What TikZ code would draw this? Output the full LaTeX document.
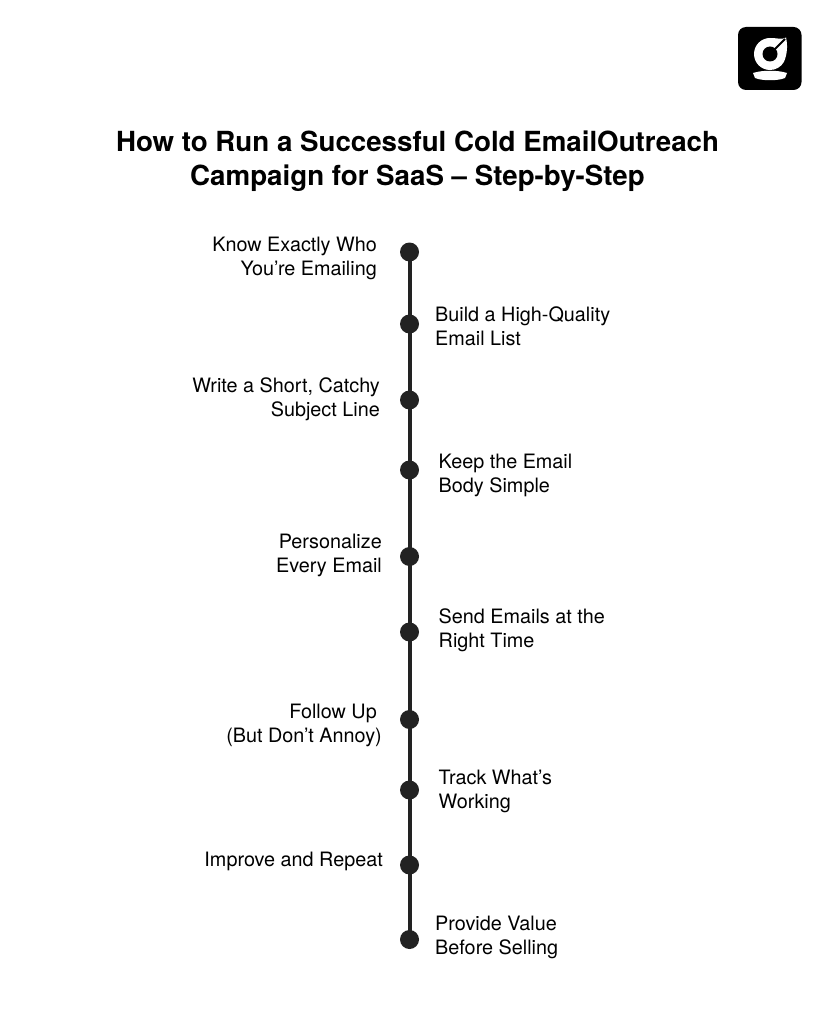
\documentclass[tikz,border=0pt]{standalone}
\usepackage{fontspec}
\setmainfont{TeX Gyre Heros}
\definecolor{ink}{HTML}{222222}
\tikzset{
  x=1pt,y=1pt,
  dot/.style={circle,fill=ink,draw=none,minimum size=19pt,inner sep=0pt},
  spine/.style={draw=ink,line width=4pt},
  lab/.style={font=\fontsize{19.8}{24}\selectfont,text=black,inner sep=0pt},
  labl/.style={lab,align=right,anchor=east},
  labr/.style={lab,align=left,anchor=west},
  ttl/.style={font=\fontsize{27.7}{34.5}\selectfont\bfseries,text=black,align=center,inner sep=0pt}
}
\begin{document}
\begin{tikzpicture}
\useasboundingbox (0,0) rectangle (835,-1024);
\fill[white] (0,0) rectangle (835,-1024);
% logo
\fill[black,rounded corners=8pt] (738,-27) rectangle (801.5,-90);
\fill[white] (786,-37.5) .. controls (782,-40) and (778,-38) .. (770,-38) arc[start angle=90,end angle=330,radius=16] .. controls (787,-55) and (788,-46) .. cycle;
\fill[black] (770,-54) circle[radius=7.5];
\draw[black,line width=2pt] (770,-54) -- (785,-39);
\fill[white] (753,-73) .. controls (762,-70) and (778,-70) .. (787,-73) -- (785,-78) .. controls (778,-81) and (762,-81) .. (755,-78) -- cycle;
% title
\node[ttl] (title) at (417.5,-161) {How to Run a Successful Cold EmailOutreach\\Campaign for SaaS – Step-by-Step};
% timeline dots
\node[dot] (d1) at (409.5,-252) {};
\node[dot] (d2) at (409.5,-324) {};
\node[dot] (d3) at (409.5,-400) {};
\node[dot] (d4) at (409.5,-470) {};
\node[dot] (d5) at (409.5,-556.5) {};
\node[dot] (d6) at (409.5,-632) {};
\node[dot] (d7) at (409.5,-719.5) {};
\node[dot] (d8) at (409.5,-790) {};
\node[dot] (d9) at (409.5,-865) {};
\node[dot] (d10) at (409.5,-939.5) {};
\draw[spine] (d1.center) -- (d10.center);
% labels
\node[labl] (l1) at (377,-258.5) {Know Exactly Who\\You’re Emailing};
\node[labr] (l2) at (435,-326.5) {Build a High-Quality\\Email List};
\node[labl] (l3) at (380,-399) {Write a Short, Catchy\\Subject Line};
\node[labr] (l4) at (438.5,-475.5) {Keep the Email\\Body Simple};
\node[labl] (l5) at (382,-555) {Personalize\\Every Email};
\node[labr] (l6) at (438.5,-630.5) {Send Emails at the\\Right Time};
\node[labl] (l7) at (382,-725) {Follow Up\hspace*{5pt}\\(But Don’t Annoy)};
\node[labr] (l8) at (438.5,-791) {Track What’s\\Working};
\node[labl] (l9) at (383,-861) {Improve and Repeat};
\node[labr] (l10) at (435,-937.5) {Provide Value\\Before Selling};
\end{tikzpicture}
\end{document}
